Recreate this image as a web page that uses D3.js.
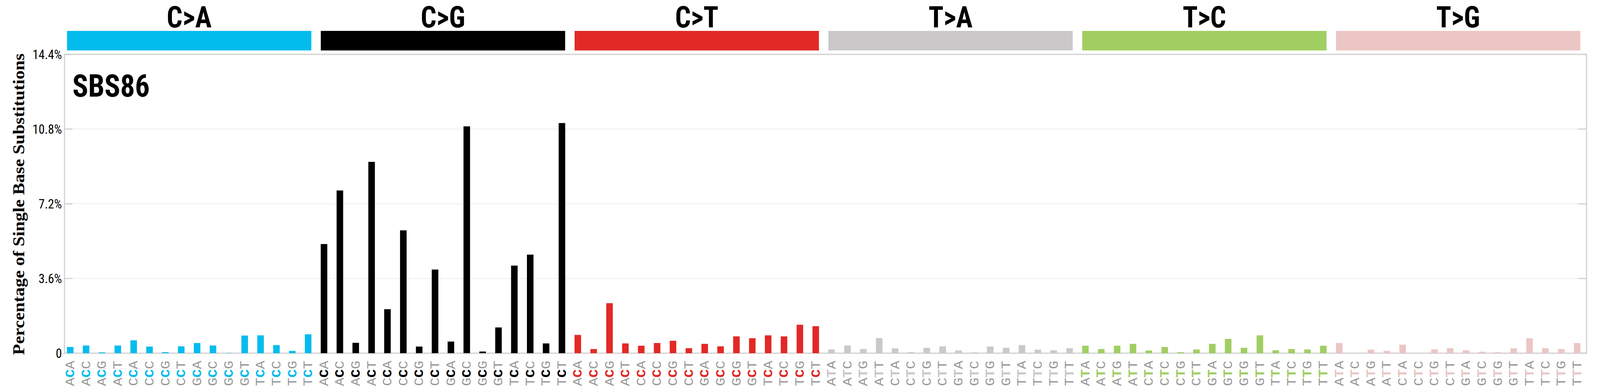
<!DOCTYPE html>
<html><head><meta charset="utf-8">
<script src="https://cdn.jsdelivr.net/npm/d3@7"></script>
<style>html,body{margin:0;padding:0;background:#fff;overflow:hidden}svg{display:block}</style></head>
<body><svg id="c" viewBox="0 0 4393 992" preserveAspectRatio="none" style="width:100vw;height:100vh"></svg>
<script>
const mutTypes = ["C>A","C>G","C>T","T>A","T>C","T>G"];
const mutColors = ["#03BCEE","#000000","#E32926","#CAC8C9","#A1CE63","#EBC6C4"];
const flanks5 = ["A","A","A","A","C","C","C","C","G","G","G","G","T","T","T","T"];
const flanks3 = ["A","C","G","T","A","C","G","T","A","C","G","T","A","C","G","T"];
const valCA = [0.30,0.37,0.04,0.37,0.62,0.32,0.05,0.33,0.49,0.37,0.01,0.85,0.86,0.39,0.11,0.91];
const valCG = [5.26,7.84,0.50,9.22,2.12,5.92,0.32,4.03,0.56,10.93,0.08,1.24,4.22,4.75,0.47,11.09];
const valCT = [0.88,0.20,2.41,0.47,0.36,0.49,0.60,0.24,0.45,0.33,0.81,0.72,0.86,0.81,1.37,1.30];
const valTA = [0.18,0.37,0.20,0.73,0.23,0.05,0.26,0.33,0.13,0.04,0.32,0.26,0.39,0.17,0.14,0.24];
const valTC = [0.36,0.20,0.36,0.45,0.13,0.30,0.05,0.18,0.45,0.69,0.26,0.86,0.14,0.20,0.18,0.36];
const valTG = [0.49,0.01,0.17,0.11,0.41,0.01,0.18,0.24,0.14,0.07,0.05,0.23,0.72,0.24,0.20,0.49];
const yTicks = [0,3.6,7.2,10.8,14.4];
const yTickLabels = ["0","3.6%","7.2%","10.8%","14.4%"];
const signatureName = "SBS86";
const yTitle = "Percentage of Single Base Substitutions";

const allVals = [valCA,valCG,valCT,valTA,valTC,valTG];
const data = [];
mutTypes.forEach((m,g)=>{
  allVals[g].forEach((v,i)=>{
    data.push({g, type:m, ref:m[0], f5:flanks5[i], f3:flanks3[i], v, key:m+"_"+i});
  });
});

const svg = d3.select("#c");
const L=177, R=4356, T=139, B=903;
const x = d3.scaleBand().domain(data.map(d=>d.key)).range([171,4352]);
const y = d3.scaleLinear().domain([0,14.4]).range([B,T]);
const narrow = "'Liberation Sans Narrow','Roboto Condensed','Liberation Sans',Arial,sans-serif";

svg.append("g").selectAll("line").data(yTicks.slice(1,4)).join("line")
  .attr("x1",L).attr("x2",R).attr("y1",d=>y(d)).attr("y2",d=>y(d))
  .attr("stroke","#e8e8e8").attr("stroke-width",1.5);
svg.append("rect").attr("x",L).attr("y",T).attr("width",R-L).attr("height",B-T)
  .attr("fill","none").attr("stroke","#d0d0d0").attr("stroke-width",3);
svg.append("g").selectAll("line").data(yTicks).join("line")
  .attr("x1",L).attr("x2",L+22).attr("y1",d=>y(d)).attr("y2",d=>y(d))
  .attr("stroke","#d0d0d0").attr("stroke-width",3);
svg.append("g").selectAll("line").data(yTicks).join("line")
  .attr("x1",R-23).attr("x2",R).attr("y1",d=>y(d)).attr("y2",d=>y(d))
  .attr("stroke","#d0d0d0").attr("stroke-width",3);
svg.append("g").selectAll("text").data(yTicks).join("text")
  .attr("x",L-7).attr("y",d=>y(d)).attr("dy","0.35em").attr("text-anchor","end")
  .attr("font-family",narrow).attr("font-size",34).attr("fill","#000")
  .text((d,i)=>yTickLabels[i]);

const bw = 18;
svg.append("g").selectAll("rect").data(data).join("rect")
  .attr("x",d=>x(d.key)+x.bandwidth()/2-bw/2).attr("width",bw)
  .attr("y",d=>y(d.v)).attr("height",d=>B-y(d.v))
  .attr("fill",d=>mutColors[d.g]);

const step = x.step();
mutTypes.forEach((m,g)=>{
  const x0 = x(data[g*16].key)+13, x1 = x(data[g*16+15].key)+step-13;
  svg.append("rect").attr("x",x0).attr("y",79).attr("width",x1-x0).attr("height",50).attr("fill",mutColors[g]);
  svg.append("text").attr("x",(x0+x1)/2).attr("y",70).attr("text-anchor","middle")
    .attr("font-family",narrow).attr("font-weight","bold").attr("font-size",76).text(m);
});

svg.append("text").attr("x",199).attr("y",247).attr("font-family",narrow)
  .attr("font-weight","bold").attr("font-size",80).text(signatureName);

svg.append("text").attr("transform",`translate(66,${(117+927)/2}) rotate(-90)`)
  .attr("text-anchor","middle").attr("font-family","'Liberation Serif','Times New Roman',serif")
  .attr("font-weight","bold").attr("font-size",46).text(yTitle);

const lab = svg.append("g").selectAll("text").data(data).join("text")
  .attr("transform",d=>`translate(${x(d.key)+x.bandwidth()/2+11},987) rotate(-90)`)
  .attr("font-family","'Liberation Mono','Courier New',monospace").attr("font-size",36);
lab.append("tspan").attr("fill","#999").text(d=>d.f5);
lab.append("tspan").attr("fill",d=>mutColors[d.g]).attr("font-weight","bold").text(d=>d.ref);
lab.append("tspan").attr("fill","#999").text(d=>d.f3);
</script></body></html>
